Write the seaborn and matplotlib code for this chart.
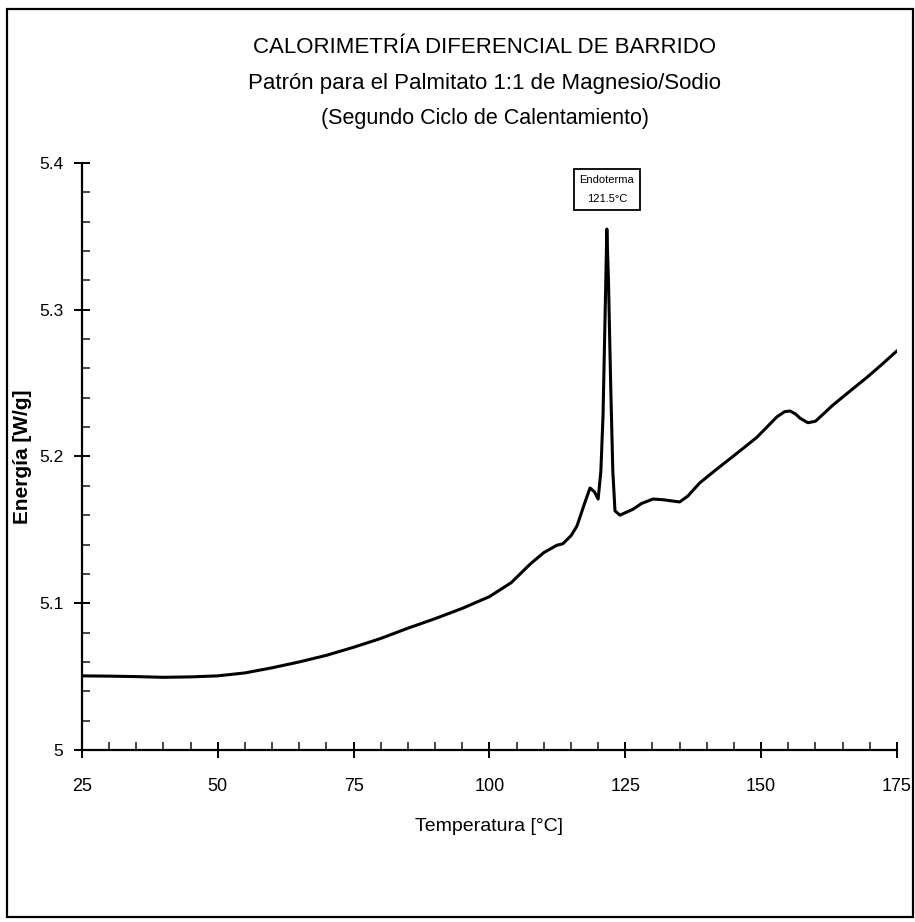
import numpy as np
import pandas as pd
import matplotlib
matplotlib.use("Agg")
import matplotlib.pyplot as plt
from matplotlib.ticker import MultipleLocator, FormatStrFormatter
from matplotlib.patches import Rectangle
import seaborn as sns

# DSC curve
temperature = [25, 30, 35, 40, 45, 50, 55, 60, 65, 70, 75, 80, 85, 90, 95, 100,
               104, 107.5, 110, 112.4, 113.5, 115, 116.1, 117.5, 118.5, 119.3,
               120, 120.5, 120.9, 121.3, 121.6, 121.9, 122.3, 122.7, 123.1, 124,
               126.4, 128, 130.1, 132, 135, 136.5, 138.7, 141.7, 144.8, 149.2,
               152.9, 154.3, 155.3, 156.3, 157.2, 158.6, 160, 163.2, 166.5,
               169.5, 172, 175]
energy = [5.0505, 5.0503, 5.0500, 5.0495, 5.0498, 5.0505, 5.0525, 5.0560, 5.0600,
          5.0645, 5.0700, 5.0760, 5.0830, 5.0895, 5.0965, 5.1045,
          5.1140, 5.1267, 5.1345, 5.1395, 5.1405, 5.1460, 5.1526, 5.1680, 5.1785,
          5.1760, 5.1710, 5.1900, 5.2280, 5.3000, 5.3550, 5.3200, 5.2500, 5.1900,
          5.1630, 5.1600, 5.1640, 5.1680, 5.1710, 5.1705, 5.1690, 5.1730, 5.1820,
          5.1910, 5.2000, 5.2130, 5.2270, 5.2305, 5.2310, 5.2290, 5.2260, 5.2230,
          5.2240, 5.2350, 5.2450, 5.2540, 5.2620, 5.2720]

x_ticks = [25, 50, 75, 100, 125, 150, 175]
y_ticks = [5.0, 5.1, 5.2, 5.3, 5.4]

titles = ["CALORIMETRÍA DIFERENCIAL DE BARRIDO",
          "Patrón para el Palmitato 1:1 de Magnesio/Sodio",
          "(Segundo Ciclo de Calentamiento)"]
peak_label = "Endoterma\n121.5°C"
peak_t, peak_e = 121.6, 5.355

df = pd.DataFrame({"Temperatura": temperature, "Energia": energy})

sns.set_style("ticks")
plt.rcParams["font.family"] = ["Liberation Sans", "DejaVu Sans"]
plt.rcParams["text.color"] = "black"
plt.rcParams["axes.labelcolor"] = "black"

fig = plt.figure(figsize=(9.15, 9.22), dpi=100)
ax = fig.add_axes([0.0896, 0.1866, 0.8907, 0.6366])

sns.lineplot(data=df, x="Temperatura", y="Energia", ax=ax, color="black",
             linewidth=2.2, estimator=None)

ax.set_xlim(25, 175)
ax.set_ylim(5.0, 5.4)
ax.set_xticks(x_ticks)
ax.set_yticks(y_ticks)
ax.xaxis.set_minor_locator(MultipleLocator(5))
ax.yaxis.set_minor_locator(MultipleLocator(0.02))
ax.yaxis.set_major_formatter(FormatStrFormatter("%g"))
ax.tick_params(which="major", direction="inout", length=11, width=1.4,
               labelsize=13, colors="black")
ax.tick_params(axis="x", which="major", pad=15)
ax.tick_params(axis="y", which="major", pad=8, labelsize=12.5)
ax.tick_params(which="minor", direction="in", length=6, width=1.2)
sns.despine(ax=ax)
for s in ["left", "bottom"]:
    ax.spines[s].set_linewidth(1.6)
    ax.spines[s].set_color("black")

ax.set_xlabel("Temperatura [°C]", fontsize=14, labelpad=16)
ax.set_ylabel("Energía [W/g]", fontsize=15, fontweight="bold")
ax.yaxis.set_label_coords(-0.061, 0.5)

ax.text(peak_t, 5.382, peak_label, ha="center", va="center", fontsize=8,
        linespacing=2.2,
        bbox=dict(boxstyle="square,pad=0.5", fc="white", ec="black", lw=1.3))

fig.text(0.53, 0.948, titles[0], ha="center", va="center", fontsize=16)
fig.text(0.53, 0.909, titles[1], ha="center", va="center", fontsize=16)
fig.text(0.53, 0.872, titles[2], ha="center", va="center", fontsize=15.5)

fig.patches.append(Rectangle((7 / 915, 1 - 917 / 922), 906 / 915, 908 / 922,
                             transform=fig.transFigure, fill=False,
                             ec="black", lw=1.6))

fig.savefig("out.png", dpi=100)
